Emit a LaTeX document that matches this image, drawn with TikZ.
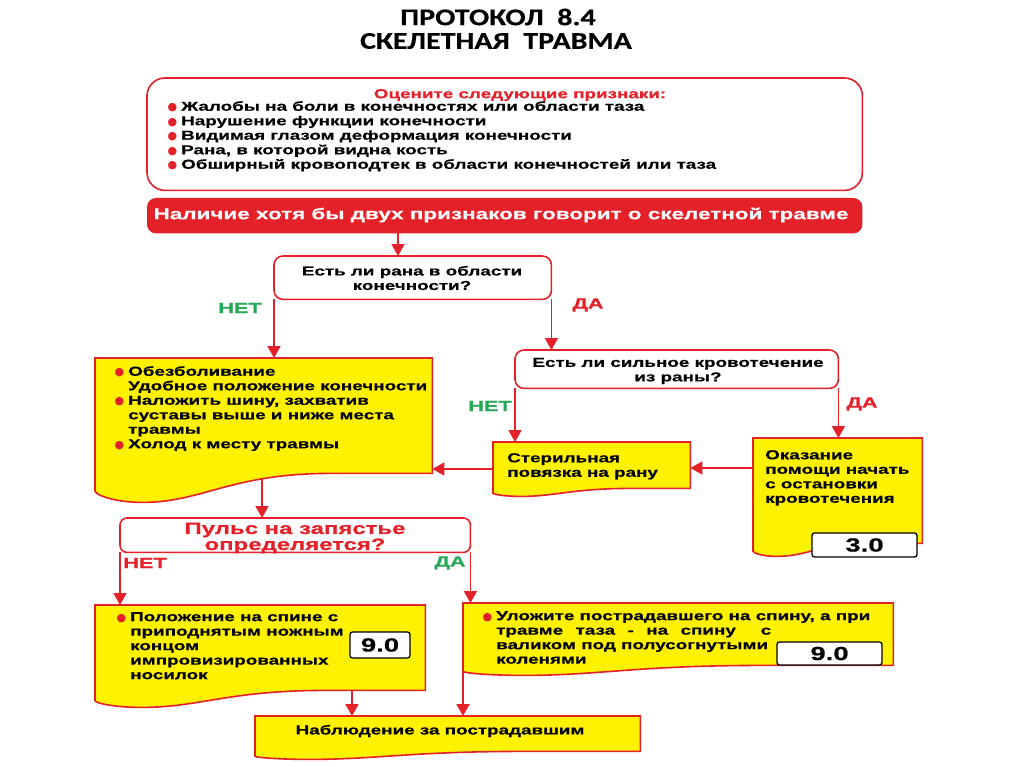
\documentclass[tikz,border=0pt]{standalone}
\usepackage{fontspec}
\setmainfont{Liberation Sans}[FakeStretch=1.45, BoldFeatures={FakeBold=0.5}]
\newfontfamily\bulfont{DejaVu Sans}
\newfontfamily\titlefont{Carlito}[FakeStretch=1.25, BoldFeatures={FakeBold=0.4}]
\usetikzlibrary{calc,arrows.meta}
\definecolor{rd}{RGB}{228,32,40}
\definecolor{yl}{RGB}{255,242,0}
\definecolor{gr}{RGB}{38,168,88}
\newcommand\bul{\llap{\smash{\bulfont\fontsize{11}{11}\selectfont\textcolor{rd}{●}}\hspace{4pt}}}
\newcommand\docbox[3]{%
  \draw[boxline, fill=#2] (#1.north west) -- (#1.north east) -- (#1.south east)
   -- ($(#1.south east)!0.3!(#1.south west)$)
   .. controls ($(#1.south east)!0.6!(#1.south west)$) and ($(#1.south east)!0.68!(#1.south west)+(0,#3)$)
   .. ($(#1.south east)!0.86!(#1.south west)+(0,#3)$)
   .. controls ($(#1.south east)!0.94!(#1.south west)+(0,#3)$) and ($(#1.south west)+(0,0.75*#3)$)
   .. ($(#1.south west)+(0,0.6*#3)$) -- cycle;}
\begin{document}
\begin{tikzpicture}[x=1pt,y=-1pt,
  boxline/.style={draw=rd, line width=1.6pt},
  conn/.style={draw=rd, line width=1.8pt},
  arr/.style={conn, -{Triangle[length=12pt,width=13pt]}},
  area/.style={rectangle, inner sep=0pt, draw=none, anchor=north west},
  txt/.style={font=\bfseries\fontsize{13}{14.5}\selectfont, align=left, anchor=north west, inner sep=0pt, text=black},
  ctxt/.style={txt, align=center, anchor=center},
  lbl/.style={font=\bfseries\fontsize{15}{15}\selectfont, inner sep=0pt},
  numbox/.style={draw=black, line width=1.3pt, fill=white, rounded corners=2.5pt, font=\bfseries\fontsize{19}{19}\selectfont, inner sep=0pt},
  ttl/.style={font=\titlefont\bfseries\fontsize{24}{24}\selectfont, inner sep=0pt}
]
\useasboundingbox (0,0) rectangle (1024,767);
\fill[white] (0,0) rectangle (1024,767);

% title
\node[ttl] (t1) at (498,17) {ПРОТОКОЛ\ \ 8.4};
\node[ttl] (t2) at (496,41) {СКЕЛЕТНАЯ\ \ ТРАВМА};

% areas
\node[area, minimum width=715pt, minimum height=112pt] (signs) at (147,78) {};
\node[area, minimum width=715pt, minimum height=35pt] (ban) at (147,198) {};
\node[area, minimum width=277pt, minimum height=43pt] (dec1) at (274,256) {};
\node[area, minimum width=337pt, minimum height=115pt] (y1) at (95,358) {};
\node[area, minimum width=323pt, minimum height=38pt] (dec2) at (515,350) {};
\node[area, minimum width=197pt, minimum height=46pt] (ster) at (493,442) {};
\node[area, minimum width=169pt, minimum height=105pt] (okaz) at (753,438) {};
\node[area, minimum width=350pt, minimum height=34pt] (dec3) at (120,518) {};
\node[area, minimum width=330pt, minimum height=85pt] (b4) at (95,605) {};
\node[area, minimum width=430pt, minimum height=62pt] (b5) at (463,603) {};
\node[area, minimum width=385pt, minimum height=35pt] (fin) at (255,716) {};

% connectors
\draw[arr] (ban.south -| 398,0) -- (dec1.north -| 398,0);
\draw[arr] (dec1.south west) -- (y1.north -| dec1.west);
\draw[arr] (dec1.south east) -- (dec2.north -| dec1.east);
\draw[arr] (dec2.south west) -- (ster.north -| dec2.west);
\draw[arr] (dec2.south east) -- (okaz.north -| dec2.east);
\draw[arr] (okaz.west |- 0,468) -- (ster.east |- 0,468);
\draw[arr] (ster.west |- 0,469) -- (y1.east |- 0,469);
\draw[arr] (y1.south -| 262,0) -- (dec3.north -| 262,0);
\draw[arr] (dec3.south west) -- (b4.north -| dec3.west);
\draw[arr] (dec3.south east) -- (b5.north -| dec3.east);
\draw[arr] (b4.south -| 352,0) -- (fin.north -| 352,0);
\draw[arr] (b5.south west) -- (fin.north -| b5.west);

% shapes
\draw[boxline, fill=white, rounded corners=18pt] (signs.north west) rectangle (signs.south east);
\fill[rd, rounded corners=9pt] (ban.north west) rectangle (ban.south east);
\draw[boxline, fill=white, rounded corners=9pt] (dec1.north west) rectangle (dec1.south east);
\docbox{y1}{yl}{29}
\draw[boxline, fill=white, rounded corners=9pt] (dec2.north west) rectangle (dec2.south east);
\docbox{ster}{yl}{8}
\docbox{okaz}{yl}{13}
\draw[boxline, fill=white, rounded corners=7pt] (dec3.north west) rectangle (dec3.south east);
\docbox{b4}{yl}{17}
\docbox{b5}{yl}{10}
\docbox{fin}{yl}{8}

% texts
\node[ctxt, text=rd] (signsh) at (520,95) {Оцените следующие признаки:};
\node[txt] (signst) at (181,101) {\bul Жалобы на боли в конечностях или области таза\\
\bul Нарушение функции конечности\\
\bul Видимая глазом деформация конечности\\
\bul Рана, в которой видна кость\\
\bul Обширный кровоподтек в области конечностей или таза};
\node[ctxt, text=white, font=\bfseries\fontsize{15.5}{16}\selectfont] (bant) at (501,215) {Наличие хотя бы двух признаков говорит о скелетной травме};
\node[ctxt] (dec1t) at (412,278) {Есть ли рана в области\\конечности?};
\node[ctxt] (dec2t) at (678,371) {Есть ли сильное кровотечение\\из раны?};
\node[txt] (y1t) at (128,366) {\bul Обезболивание\\
Удобное положение конечности\\
\bul Наложить шину, захватив\\
суставы выше и ниже места\\
травмы\\
\bul Холод к месту травмы};
\node[txt] (stert) at (507,453) {Стерильная\\повязка на рану};
\node[txt] (okazt) at (765,450) {Оказание\\помощи начать\\с остановки\\кровотечения};
\node[numbox, minimum width=105pt, minimum height=24pt] (n3) at (864.5,545) {3.0};
\node[ctxt, text=rd, font=\bfseries\fontsize{16.5}{16}\selectfont] (dec3t) at (295,538) {Пульс на запястье\\определяется?};
\node[txt] (b4t) at (130,612) {\bul Положение на спине с\\
приподнятым ножным\\
концом\\
импровизированных\\
носилок};
\node[numbox, minimum width=60pt, minimum height=26pt] (n9a) at (380,645) {9.0};
\node[txt] (b5t) at (496,611) {\bul Уложите пострадавшего на спину, а при\\
\makebox[275pt][s]{травме\hfill таза\hfill -\hfill на\hfill спину\hfill\hfill с}\\
валиком под полусогнутыми\\
коленями};
\node[numbox, minimum width=105pt, minimum height=23pt] (n9b) at (829.5,653.5) {9.0};
\node[ctxt] (fint) at (440,731) {Наблюдение за пострадавшим};

% labels
\node[lbl, text=gr] (net1) at (240,308) {НЕТ};
\node[lbl, text=rd] (da1) at (588,305) {ДА};
\node[lbl, text=gr] (net2) at (490,406) {НЕТ};
\node[lbl, text=rd] (da2) at (862,404) {ДА};
\node[lbl, text=rd] (net3) at (145,563) {НЕТ};
\node[lbl, text=gr] (da3) at (450,563) {ДА};
\end{tikzpicture}
\end{document}
